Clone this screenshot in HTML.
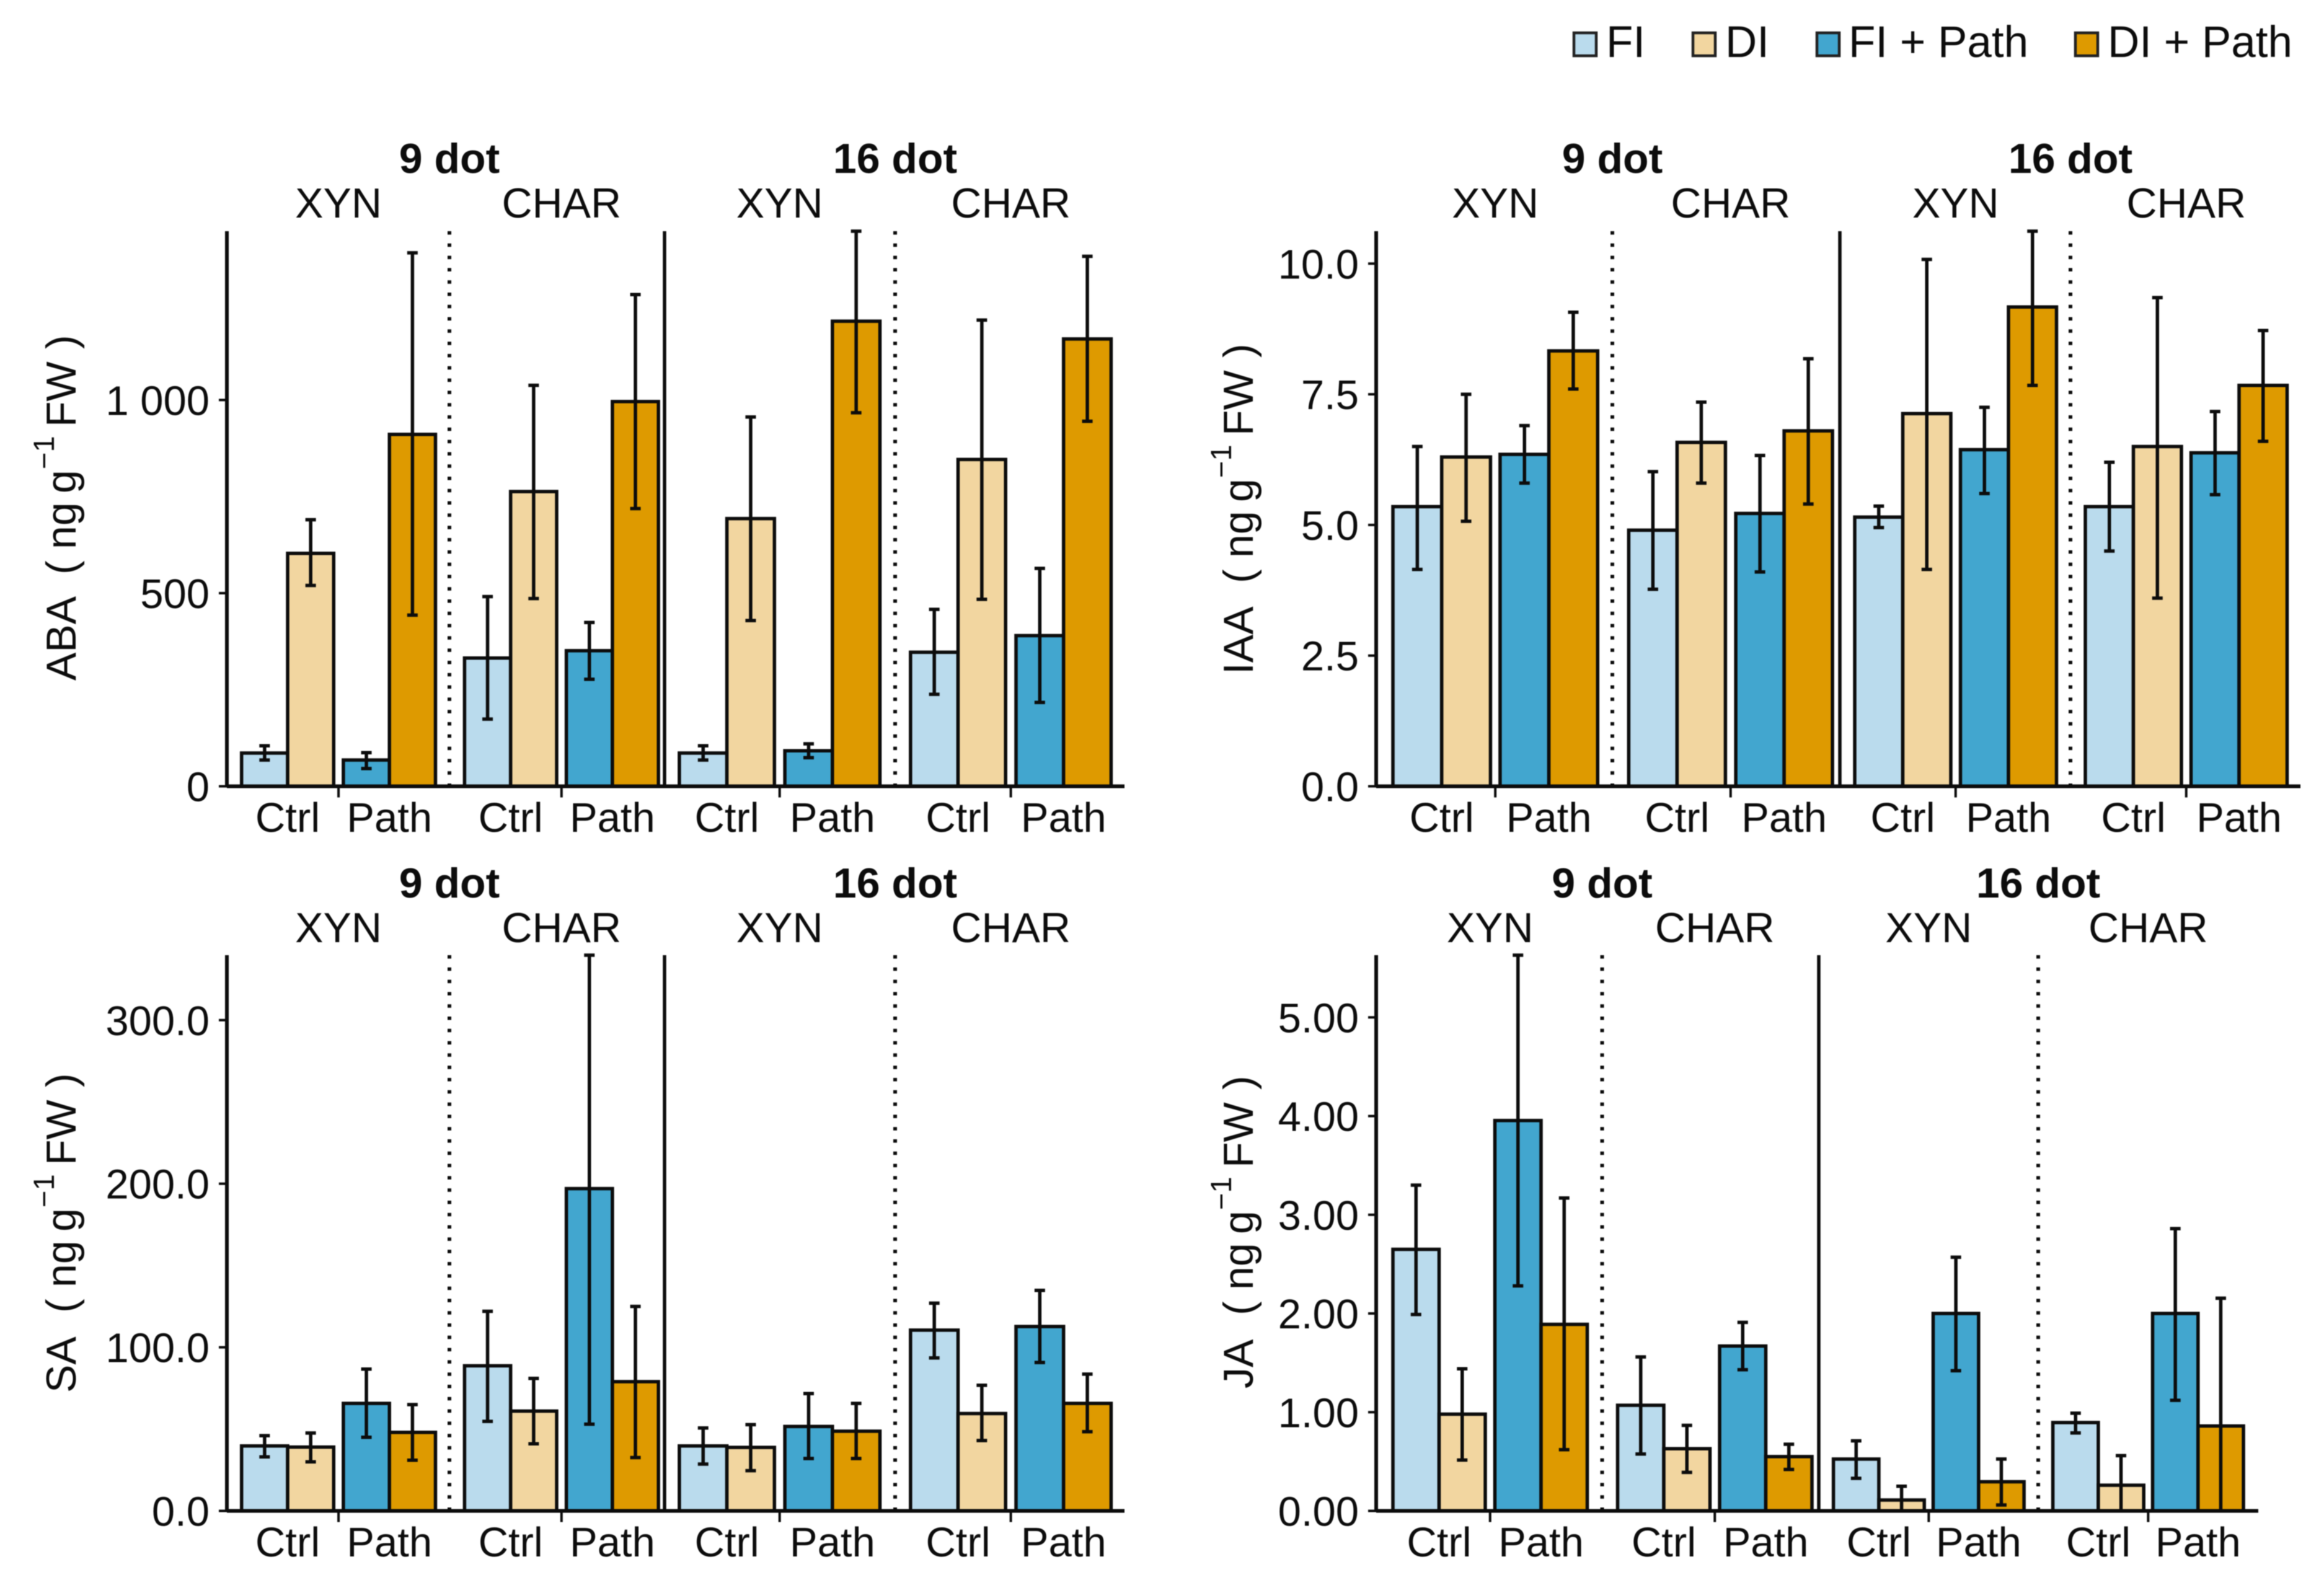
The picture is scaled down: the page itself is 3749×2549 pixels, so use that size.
<!DOCTYPE html>
<html lang="en">
<head>
<meta charset="utf-8">
<title>Hormone levels by treatment</title>
<style>
html,body{margin:0;padding:0;background:#fff;}
svg{display:block;filter:blur(0.9px);}
text{font-family:"Liberation Sans",Arial,sans-serif;fill:#0c0c0c;}
</style>
</head>
<body>
<svg id="figure" xmlns="http://www.w3.org/2000/svg" width="3749" height="2549" viewBox="0 0 3749 2549">
  <rect x="0" y="0" width="3749" height="2549" fill="#ffffff"/>

  <g font-size="71">
    <g>
      <rect x="2539" y="53" width="36" height="37" fill="#BADBED" stroke="#222" stroke-width="4.5"/>
      <text x="2591" y="92">FI</text>
    </g>
    <g>
      <rect x="2731" y="53" width="36" height="37" fill="#F2D6A0" stroke="#222" stroke-width="4.5"/>
      <text x="2783" y="92">DI</text>
    </g>
    <g>
      <rect x="2931" y="53" width="36" height="37" fill="#42A6CF" stroke="#222" stroke-width="4.5"/>
      <text x="2982" y="92">FI + Path</text>
    </g>
    <g>
      <rect x="3348" y="53" width="36" height="37" fill="#DE9A00" stroke="#222" stroke-width="4.5"/>
      <text x="3400" y="92">DI + Path</text>
    </g>
  </g>

  <text font-size="68" transform="translate(122,1098) rotate(-90)"><tspan x="0">ABA</tspan><tspan x="171">(</tspan><tspan x="212">ng</tspan><tspan x="302">g</tspan><tspan x="341" y="-35" font-size="47">−1</tspan><tspan x="409" y="0">FW</tspan><tspan x="535">)</tspan></text>
  <text font-size="68" transform="translate(2021,1088) rotate(-90)"><tspan x="0">IAA</tspan><tspan x="147">(</tspan><tspan x="188">ng</tspan><tspan x="278">g</tspan><tspan x="317" y="-35" font-size="47">−1</tspan><tspan x="385" y="0">FW</tspan><tspan x="511">)</tspan></text>
  <text font-size="68" transform="translate(122,2247) rotate(-90)"><tspan x="0">SA</tspan><tspan x="129">(</tspan><tspan x="170">ng</tspan><tspan x="260">g</tspan><tspan x="299" y="-35" font-size="47">−1</tspan><tspan x="367" y="0">FW</tspan><tspan x="493">)</tspan></text>
  <text font-size="68" transform="translate(2021,2240) rotate(-90)"><tspan x="0">JA</tspan><tspan x="118">(</tspan><tspan x="159">ng</tspan><tspan x="249">g</tspan><tspan x="288" y="-35" font-size="47">−1</tspan><tspan x="356" y="0">FW</tspan><tspan x="482">)</tspan></text>

  <g id="panel-aba"></g>
  <g id="panel-iaa"></g>
  <g id="panel-sa"></g>
  <g id="panel-ja"></g>
</svg>

<script>
// Categories
const dotLevels = ['9 dot', '16 dot'];
const pathogens = ['XYN', 'CHAR'];
const stressLevels = ['Ctrl', 'Path'];
const seriesNames = ['fi', 'di', 'fi-path', 'di-path'];
const seriesColors = ['#BADBED', '#F2D6A0', '#42A6CF', '#DE9A00'];

// Values run: 9 dot XYN, 9 dot CHAR, 16 dot XYN, 16 dot CHAR; each as FI, DI, FI + Path, DI + Path
const abaMeans = [86, 603, 68, 911, 332, 763, 351, 996, 86, 693, 92, 1204, 347, 846, 390, 1158];
const abaLower = [68, 520, 46, 443, 174, 486, 277, 719, 68, 429, 74, 967, 238, 484, 217, 945];
const abaUpper = [105, 690, 87, 1381, 491, 1038, 424, 1273, 105, 956, 110, 1437, 458, 1207, 564, 1372];
const abaTickValues = [0, 500, 1000];
const abaTickLabels = ['0', '500', '1 000'];
const abaYMax = 1437;

const iaaMeans = [5.35, 6.3, 6.35, 8.33, 4.9, 6.58, 5.22, 6.8, 5.15, 7.13, 6.44, 9.17, 5.35, 6.5, 6.38, 7.67];
const iaaLower = [4.15, 5.07, 5.8, 7.6, 3.77, 5.8, 4.1, 5.4, 4.95, 4.15, 5.6, 7.67, 4.5, 3.6, 5.58, 6.6];
const iaaUpper = [6.5, 7.5, 6.9, 9.07, 6.02, 7.35, 6.33, 8.18, 5.36, 10.08, 7.25, 10.62, 6.2, 9.35, 7.17, 8.72];
const iaaTickValues = [0, 2.5, 5, 7.5, 10];
const iaaTickLabels = ['0.0', '2.5', '5.0', '7.5', '10.0'];
const iaaYMax = 10.62;

const saMeans = [39.7, 39, 65.7, 48, 88.7, 61, 197, 79, 39.7, 38.8, 51.6, 48.7, 110.5, 59.5, 112.7, 65.7];
const saLower = [33, 30, 45, 31, 54.7, 41, 53, 32.6, 28.6, 24.6, 32, 32, 93.5, 43, 90.7, 48.4];
const saUpper = [46, 47.6, 86.7, 65, 122, 81, 339.7, 125, 50.7, 52.7, 71.7, 65.7, 127, 76.8, 134.8, 83.6];
const saTickValues = [0, 100, 200, 300];
const saTickLabels = ['0.0', '100.0', '200.0', '300.0'];
const saYMax = 339.7;

const jaMeans = [2.65, 0.98, 3.955, 1.89, 1.07, 0.63, 1.67, 0.55, 0.525, 0.11, 2.0, 0.295, 0.895, 0.26, 2.0, 0.86];
const jaLower = [1.99, 0.515, 2.28, 0.62, 0.576, 0.39, 1.43, 0.42, 0.33, 0, 1.42, 0.06, 0.79, 0, 1.12, 0];
const jaUpper = [3.3, 1.44, 5.63, 3.17, 1.56, 0.867, 1.91, 0.675, 0.71, 0.25, 2.57, 0.525, 0.99, 0.56, 2.86, 2.155];
const jaTickValues = [0, 1, 2, 3, 4, 5];
const jaTickLabels = ['0.00', '1.00', '2.00', '3.00', '4.00', '5.00'];
const jaYMax = 5.63;

const SVG_NS = 'http://www.w3.org/2000/svg';
const INK = '#0c0c0c';

// Panel geometry (layout only, no data)
const topRowFrame = { top: 373, bottom: 1268.5, dotY: 279, pathogenY: 351, stressY: 1342 };
const bottomRowFrame = { top: 1541, bottom: 2437.5, dotY: 1448, pathogenY: 1520, stressY: 2511 };
const leftFacets = {
  axisX: 366, axisStart: 353, axisEnd: 1814, solidX: 1072, dottedA: 725, dottedB: 1444,
  facets: [
    { start: 389.7, barW: 74.3, gap: 15.6 }, { start: 749.4, barW: 74.3, gap: 15.6 },
    { start: 1095.9, barW: 76.7, gap: 16.8 }, { start: 1468.8, barW: 76.7, gap: 16.8 }
  ]
};
const iaaFacets = {
  axisX: 2220, axisStart: 2207, axisEnd: 3711, solidX: 2968, dottedA: 2601, dottedB: 3340,
  facets: [
    { start: 2247, barW: 78.7, gap: 15.5 }, { start: 2627.4, barW: 78, gap: 16.7 },
    { start: 2992, barW: 77.5, gap: 15.5 }, { start: 3364, barW: 77.5, gap: 15.5 }
  ]
};
const jaFacets = {
  axisX: 2220, axisStart: 2207, axisEnd: 3643, solidX: 2934, dottedA: 2584.5, dottedB: 3288,
  facets: [
    { start: 2247, barW: 74.5, gap: 15.5 }, { start: 2609.5, barW: 74.5, gap: 15.5 },
    { start: 2957.6, barW: 73.3, gap: 14.3 }, { start: 3311.6, barW: 73.3, gap: 14.3 }
  ]
};

function makeEl(parent, tag, attrs) {
  const node = document.createElementNS(SVG_NS, tag);
  for (const k in attrs) node.setAttribute(k, attrs[k]);
  parent.appendChild(node);
  return node;
}
function lineEl(parent, x1, y1, x2, y2, width, color) {
  return makeEl(parent, 'line', { x1: x1, y1: y1, x2: x2, y2: y2, stroke: color || INK, 'stroke-width': width });
}
function textEl(parent, str, x, y, size, anchor, weight) {
  const node = makeEl(parent, 'text', { x: x, y: y, 'font-size': size, 'text-anchor': anchor, 'font-weight': weight || 'normal' });
  node.textContent = str;
  return node;
}

function drawPanel(hostId, frame, geo, means, lower, upper, tickValues, tickLabels, yMax) {
  const host = document.getElementById(hostId);
  const yScale = function (v) {
    return frame.bottom - (v / yMax) * (frame.bottom - frame.top);
  };
  const xScale = function (facetIdx, seriesIdx) {
    const f = geo.facets[facetIdx];
    return f.start + f.barW * seriesIdx + (seriesIdx >= 2 ? f.gap : 0);
  };
  const groupCenter = function (facetIdx, stressIdx) {
    const f = geo.facets[facetIdx];
    return xScale(facetIdx, stressIdx * 2) + f.barW;
  };
  const facetCenter = function (facetIdx) {
    const f = geo.facets[facetIdx];
    return f.start + 2 * f.barW + f.gap / 2;
  };

  // Bars first, so that error bars and axes sit on top
  means.forEach(function (value, i) {
    const facetIdx = Math.floor(i / 4);
    const seriesIdx = i % 4;
    const f = geo.facets[facetIdx];
    const y = yScale(value);
    const bar = makeEl(host, 'rect', {
      x: xScale(facetIdx, seriesIdx), y: y, width: f.barW,
      height: frame.bottom - y, fill: seriesColors[seriesIdx], stroke: INK, 'stroke-width': 5.5
    });
    
    
  });

  means.forEach(function (value, i) {
    const facetIdx = Math.floor(i / 4);
    const seriesIdx = i % 4;
    const f = geo.facets[facetIdx];
    const cx = xScale(facetIdx, seriesIdx) + f.barW / 2;
    const yLow = yScale(lower[i]);
    const yHigh = yScale(upper[i]);
    const group = makeEl(host, 'g', {});
    
    
    lineEl(group, cx, yLow, cx, yHigh, 5.5);
    lineEl(group, cx - 8.5, yLow, cx + 8.5, yLow, 5.5);
    lineEl(group, cx - 8.5, yHigh, cx + 8.5, yHigh, 5.5);
  });

  const dotted1 = lineEl(host, geo.dottedA, frame.top, geo.dottedA, frame.bottom, 6);
  dotted1.setAttribute('stroke-dasharray', '5.5 14.3');
  
  
  const dotted2 = lineEl(host, geo.dottedB, frame.top, geo.dottedB, frame.bottom, 6);
  dotted2.setAttribute('stroke-dasharray', '5.5 14.3');
  
  
  const solid = lineEl(host, geo.solidX, frame.top, geo.solidX, frame.bottom, 5.5);
  
  

  const yAxis = lineEl(host, geo.axisX, frame.top, geo.axisX, frame.bottom + 2, 6);
  
  
  const xAxis = lineEl(host, geo.axisX, frame.bottom, geo.axisEnd, frame.bottom, 6);
  
  

  tickValues.forEach(function (value, i) {
    const y = yScale(value);
    const tick = lineEl(host, geo.axisStart, y, geo.axisX, y, 4);
    
    
    const label = textEl(host, tickLabels[i], geo.axisStart - 15, y + 24, 67, 'end');
    
    
  });

  geo.facets.forEach(function (f, facetIdx) {
    const cx = facetCenter(facetIdx);
    const tick = lineEl(host, cx, frame.bottom, cx, frame.bottom + 18, 4);
    
    
    const strip = textEl(host, pathogens[facetIdx % 2], cx, frame.pathogenY, 68, 'middle');
    
    
    stressLevels.forEach(function (name, stressIdx) {
      const label = textEl(host, name, groupCenter(facetIdx, stressIdx), frame.stressY, 67, 'middle');
      
      
    });
  });

  const dotA = textEl(host, dotLevels[0], geo.dottedA, frame.dotY, 68, 'middle', 'bold');
  
  
  const dotB = textEl(host, dotLevels[1], geo.dottedB, frame.dotY, 68, 'middle', 'bold');
  
  
}

drawPanel('panel-aba', topRowFrame, leftFacets, abaMeans, abaLower, abaUpper, abaTickValues, abaTickLabels, abaYMax);
drawPanel('panel-iaa', topRowFrame, iaaFacets, iaaMeans, iaaLower, iaaUpper, iaaTickValues, iaaTickLabels, iaaYMax);
drawPanel('panel-sa', bottomRowFrame, leftFacets, saMeans, saLower, saUpper, saTickValues, saTickLabels, saYMax);
drawPanel('panel-ja', bottomRowFrame, jaFacets, jaMeans, jaLower, jaUpper, jaTickValues, jaTickLabels, jaYMax);
</script>
</body>
</html>
